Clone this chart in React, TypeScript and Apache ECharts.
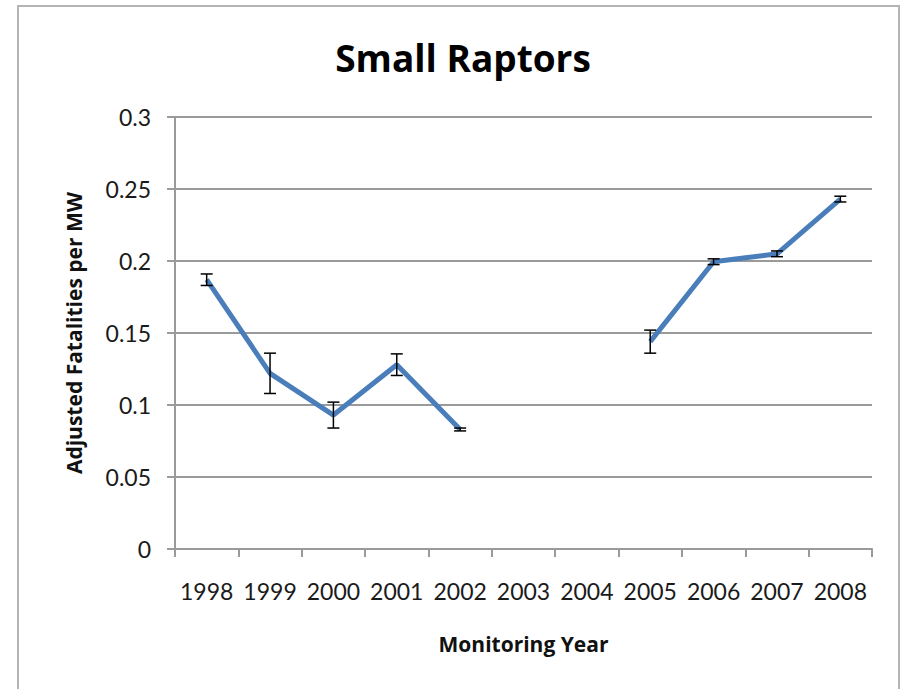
import React, { useEffect, useRef } from "react";
import * as echarts from "echarts";

const years = ["1998", "1999", "2000", "2001", "2002", "2003", "2004", "2005", "2006", "2007", "2008"];
const fatalities: (number | null)[] = [0.187, 0.122, 0.093, 0.128, 0.083, null, null, 0.144, 0.1995, 0.205, 0.243];
const errors: (number | null)[] = [0.004, 0.014, 0.009, 0.0075, 0.001, null, null, 0.008, 0.002, 0.002, 0.002];
const yTicks = { min: 0, max: 0.3, interval: 0.05 };
const titleText = "Small Raptors";
const xName = "Monitoring Year";
const yName = "Adjusted Fatalities per MW";

export default function App() {
  const ref = useRef<HTMLDivElement>(null);
  useEffect(() => {
    if (!ref.current) return;
    const chart = echarts.init(ref.current, null, { renderer: "svg" });
    const errData = years
      .map((y, i) =>
        fatalities[i] != null && errors[i] != null
          ? [i, (fatalities[i] as number) - (errors[i] as number), (fatalities[i] as number) + (errors[i] as number)]
          : null
      )
      .filter((d) => d !== null);
    const font = "Lato, 'Open Sans', sans-serif";
    const boldFont = "'Open Sans', Lato, sans-serif";
    chart.setOption({
      animation: false,
      backgroundColor: "#ffffff",
      title: {
        text: titleText,
        left: 458,
        top: 34,
        textAlign: "center",
        textStyle: { fontFamily: boldFont, fontSize: 37, fontWeight: "bold", color: "#000" },
      },
      graphic: [
        {
          type: "rect",
          shape: { x: 18, y: 6, width: 881, height: 720 },
          style: { fill: "none", stroke: "#b4b4b4", lineWidth: 2 },
          silent: true,
        },
      ],
      grid: { left: 175, right: 29, top: 117, bottom: 140 },
      xAxis: {
        type: "category",
        data: years,
        boundaryGap: true,
        name: xName,
        nameLocation: "middle",
        nameGap: 84,
        nameTextStyle: { fontFamily: boldFont, fontSize: 21, fontWeight: "bold", color: "#111" },
        axisLine: { lineStyle: { color: "#9a9a9a", width: 2 } },
        axisTick: { show: true, length: 8, alignWithLabel: false, lineStyle: { color: "#9a9a9a", width: 2 } },
        axisLabel: { fontFamily: font, fontSize: 23, color: "#1a1a1a", margin: 30, interval: 0 },
        splitLine: { show: false },
      },
      yAxis: {
        type: "value",
        min: yTicks.min,
        max: yTicks.max,
        interval: yTicks.interval,
        name: yName,
        nameLocation: "middle",
        nameGap: 91,
        nameRotate: 90,
        nameTextStyle: { fontFamily: boldFont, fontSize: 21, fontWeight: "bold", color: "#111" },
        axisLine: { show: true, lineStyle: { color: "#9a9a9a", width: 2 } },
        axisTick: { show: true, length: 8, lineStyle: { color: "#9a9a9a", width: 2 } },
        axisLabel: { fontFamily: font, fontSize: 23, color: "#1a1a1a", margin: 24 },
        splitLine: { show: true, lineStyle: { color: "#9a9a9a", width: 2 } },
      },
      series: [
        {
          type: "line",
          data: fatalities,
          connectNulls: false,
          showSymbol: false,
          symbol: "none",
          lineStyle: { color: "#4a7ebb", width: 5 },
          z: 3,
        },
        {
          type: "custom",
          data: errData,
          z: 4,
          renderItem: (params: any, api: any) => {
            const x = api.value(0);
            const lo = api.coord([x, api.value(1)]);
            const hi = api.coord([x, api.value(2)]);
            const half = 6;
            const style = { stroke: "#000", lineWidth: 1.5 };
            return {
              type: "group",
              children: [
                { type: "line", shape: { x1: lo[0], y1: lo[1], x2: hi[0], y2: hi[1] }, style },
                { type: "line", shape: { x1: lo[0] - half, y1: lo[1], x2: lo[0] + half, y2: lo[1] }, style },
                { type: "line", shape: { x1: hi[0] - half, y1: hi[1], x2: hi[0] + half, y2: hi[1] }, style },
              ],
            };
          },
        },
      ],
    });
    return () => chart.dispose();
  }, []);
  return <div ref={ref} style={{ position: "fixed", left: 0, top: 0, width: 901, height: 689 }} />;
}
